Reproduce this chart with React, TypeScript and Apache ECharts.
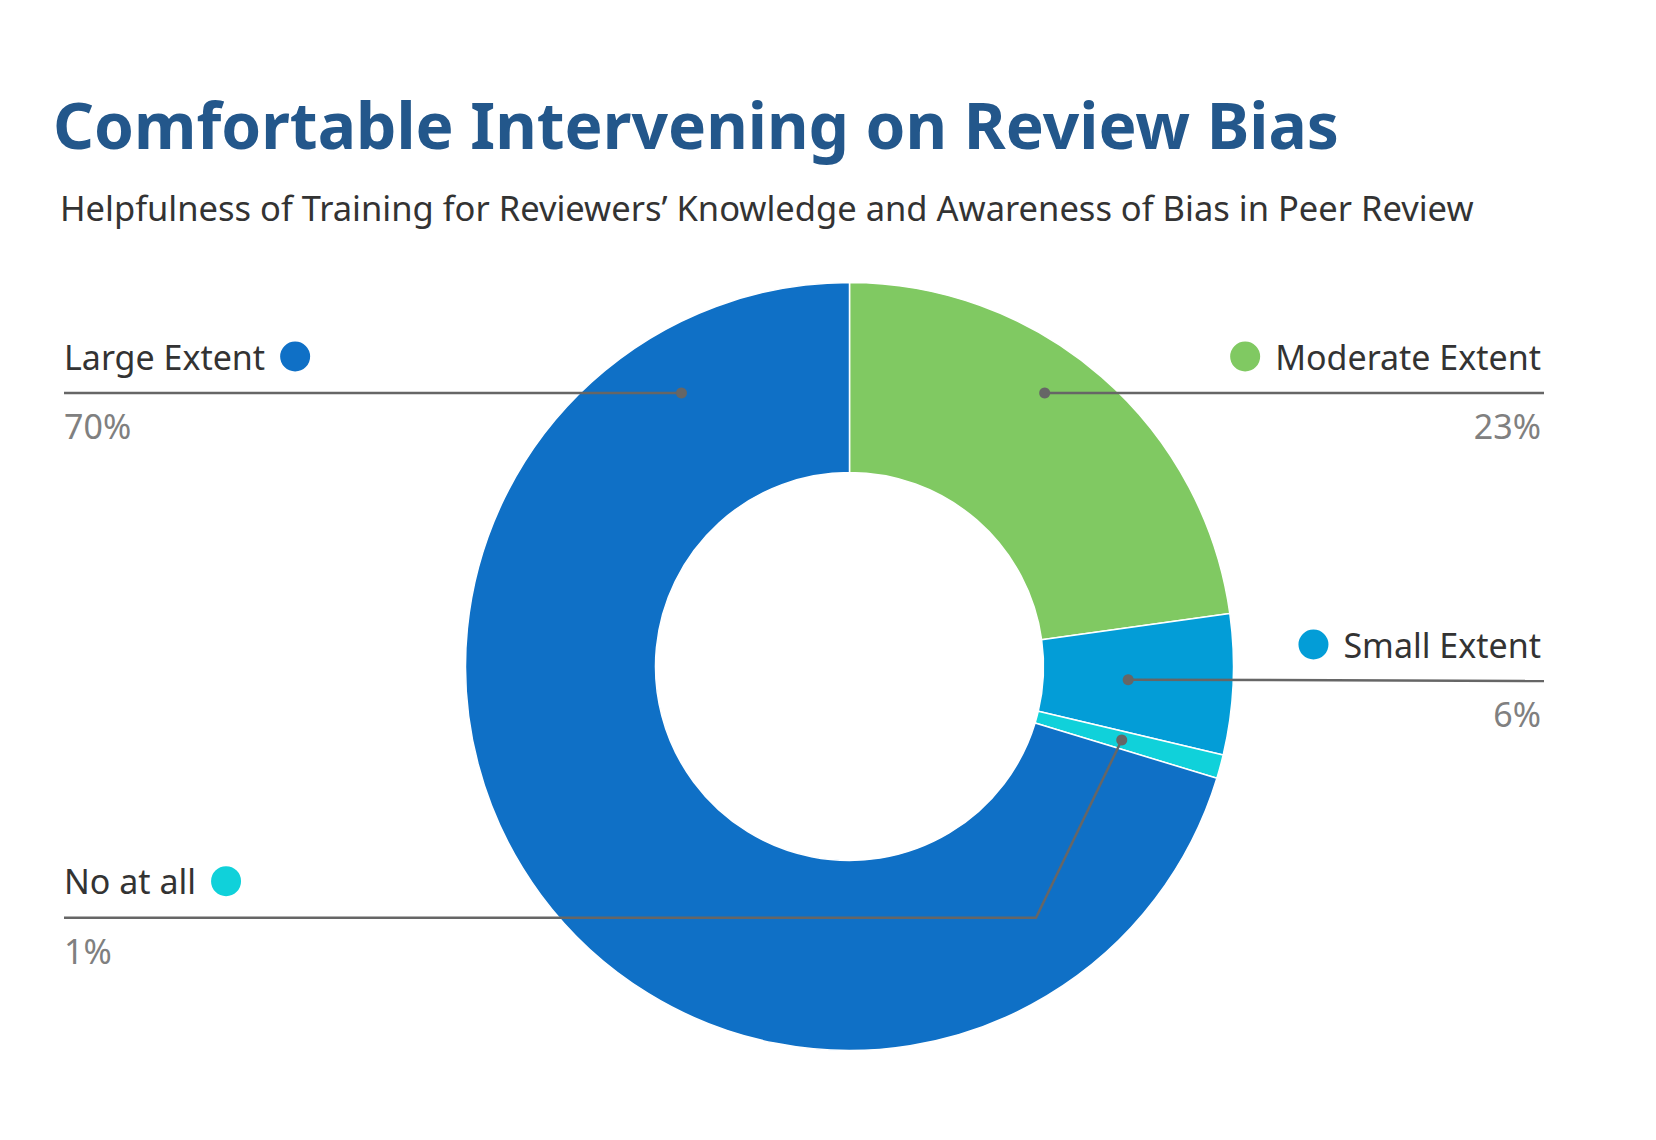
import React, { useEffect, useRef } from "react";
import * as echarts from "echarts";

// ---- Data ----
const TITLE = "Comfortable Intervening on Review Bias";
const SUBTITLE = "Helpfulness of Training for Reviewers\u2019 Knowledge and Awareness of Bias in Peer Review";
const categories = ["Moderate Extent", "Small Extent", "No at all", "Large Extent"];
const values = [22.8, 5.9, 1.0, 70.3];
const percentLabels = ["23%", "6%", "1%", "70%"];

// ---- Styles / layout ----
const COLORS = ["#80c962", "#039dd7", "#10d1da", "#0f70c6"];
const CENTER: [number, number] = [849.5, 666.5];
const R_IN = 194;
const R_OUT = 384;
const FONT = "'Noto Sans', 'Open Sans', sans-serif";
const LEFT_X = 64;
const RIGHT_X = 1544;
// label placement: side, y of the leader line, anchor radius, optional elbow x
const LABEL_LAYOUT = [
  { side: "right", lineY: 393, anchor: "line", r: 336, elbowX: null as number | null },
  { side: "right", lineY: 681, anchor: "mid", r: 279, elbowX: null as number | null },
  { side: "left", lineY: 917.7, anchor: "mid", r: 282, elbowX: 1036 },
  { side: "left", lineY: 393, anchor: "line", r: 321, elbowX: null as number | null },
];

export default function App() {
  const ref = useRef<HTMLDivElement>(null);
  useEffect(() => {
    document.body.style.margin = "0";
    const chart = echarts.init(ref.current!, null, { renderer: "svg" });
    const total = values.reduce((a, b) => a + b, 0);
    const [cx, cy] = CENTER;
    const graphics: any[] = [
      {
        type: "text",
        x: 53,
        y: 124,
        style: {
          text: TITLE,
          font: `bold 64px ${FONT}`,
          fill: "#23578b",
          textVerticalAlign: "middle",
        },
      },
      {
        type: "text",
        x: 60,
        y: 207,
        style: {
          text: SUBTITLE,
          font: `34.5px ${FONT}`,
          fill: "#333333",
          textVerticalAlign: "middle",
        },
      },
    ];
    let cum = 0;
    categories.forEach((name, i) => {
      const lay = LABEL_LAYOUT[i];
      const startA = 90 - (cum / total) * 360;
      cum += values[i];
      const endA = 90 - (cum / total) * 360;
      const mid = ((startA + endA) / 2) * (Math.PI / 180);
      let ax: number, ay: number;
      if (lay.anchor === "mid") {
        ax = cx + lay.r * Math.cos(mid);
        ay = cy - lay.r * Math.sin(mid);
      } else {
        const dy = cy - lay.lineY;
        const dx = Math.sqrt(lay.r * lay.r - dy * dy);
        ax = lay.side === "right" ? cx + dx : cx - dx;
        ay = lay.lineY;
      }
      const edgeX = lay.side === "right" ? RIGHT_X : LEFT_X;
      const pts: number[][] = [[ax, ay]];
      if (lay.elbowX != null) pts.push([lay.elbowX, lay.lineY]);
      pts.push([edgeX, lay.lineY]);
      graphics.push({
        type: "polyline",
        shape: { points: pts },
        style: { stroke: "#666666", lineWidth: 2.5, fill: null },
        z: 10,
      });
      graphics.push({
        type: "circle",
        shape: { cx: ax, cy: ay, r: 5.5 },
        style: { fill: "#666666" },
        z: 11,
      });
      const textX = lay.side === "right" ? RIGHT_X - 3 : LEFT_X;
      const align = lay.side === "right" ? "right" : "left";
      const richText =
        lay.side === "right" ? `{d| }{s| }{n|${name}}` : `{n|${name}}{s| }{d| }`;
      graphics.push({
        type: "text",
        x: textX,
        y: lay.lineY - 36.5,
        z: 10,
        style: {
          text: richText,
          textAlign: align,
          textVerticalAlign: "middle",
          rich: {
            n: { fontSize: 34, fontFamily: FONT, fill: "#333333", color: "#333333" },
            s: { width: 15, fontSize: 10 },
            d: {
              width: 30,
              height: 30,
              borderRadius: 15,
              backgroundColor: COLORS[i],
              fontSize: 10,
            },
          },
        },
      });
      graphics.push({
        type: "text",
        x: textX,
        y: lay.lineY + 33,
        z: 10,
        style: {
          text: percentLabels[i],
          font: `34px ${FONT}`,
          fill: "#808080",
          textAlign: align,
          textVerticalAlign: "middle",
        },
      });
    });

    chart.setOption({
      animation: false,
      backgroundColor: "#ffffff",
      series: [
        {
          type: "pie",
          center: CENTER,
          radius: [R_IN, R_OUT],
          startAngle: 90,
          clockwise: true,
          silent: true,
          avoidLabelOverlap: false,
          label: { show: false },
          labelLine: { show: false },
          itemStyle: { borderColor: "#ffffff", borderWidth: 1.5 },
          data: categories.map((n, i) => ({
            name: n,
            value: values[i],
            itemStyle: { color: COLORS[i] },
          })),
        },
      ],
      graphic: graphics,
    });
    return () => chart.dispose();
  }, []);
  return (
    <div
      ref={ref}
      style={{ position: "absolute", left: 0, top: 0, width: 1656, height: 1140 }}
    />
  );
}
